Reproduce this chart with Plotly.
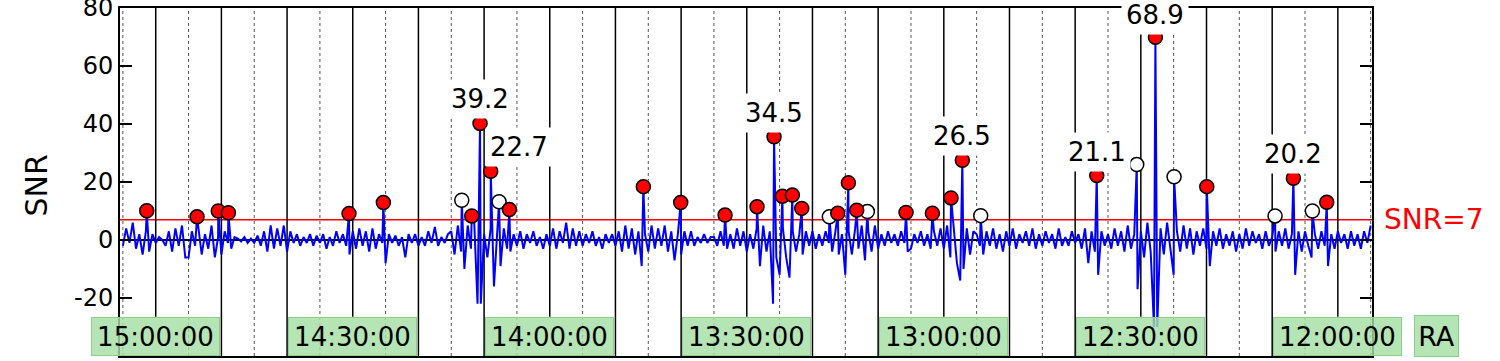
import plotly.graph_objects as go

# ---------------- data ----------------
# RA expressed in minutes of time (900 = 15:00:00); SNR noise sampled every 0.5 min
ra_start = 905.0
ra_step = 0.5
snr_noise = [
    -2, 4, -1, 6, -3, 2, -5, 3, -4, 2, -1, 1, 0, -2, 3, -4, 4, -2, 5, -6,
    -6, 3, -2, 4, -5, 2, -3, 5, -6, 1, -5, 3, -1, -3, 1, 0.5, -0.5, 1, -1, 0.5,
    -1, 1.5, -2, 3, -4, 5, -3, 4, -2, 5, -4, 3, -1, 2, -2, 1, -1, 2, -2, 1.5,
    -1, 2, -3, 1, -2, 3, -1, 2, -2, -5, 3, -3, 4, -2, 3, -4, 4, -3, 2, -1,
    -8, 2, -1, 1.5, -2, 1, -6, 2, -1, 2, -2, 1, -2, 3, -1, 4.5, -2, 1, -1, 2,
    3, -5, 5, -4, -10, 5, -3, 6, -22, -22, 2, -6, 4, -16, 3, -9, 4, -3, -4, 2,
    -2, 3, -3, 2, -1, 3, -2, 1, -3, 2, -2, 4, -3, 3, -1, 6, -3, 4, -2, 3,
    -2, 2, -1, 3, -2, 1, -3, 2, -1, 2, -2, 3, -4, 5, -3, 4, -5, 3, -9, 2,
    -4, 5, -3, 4, -2, 5, -4, 3, -7, 2, -5, 3, -2, 3, -2, 1, -1, 2, -1, 1,
    1, -2, 3, -2, -3, 2, -3, 4, -2, 3, -4, 2, -3, 4, -9, 5, -4, 3, -22, -6,
    -12, 4, -6, -13, 3, -4, 2, -5, 3, -2, 3, -3, 2, -2, 3, -1, -4, 3, -5, 2,
    -12, 3, -5, 4, -3, 5, -7, 3, -4, 5, -3, 2, -2, 3, -1, 2, -2, 3, -1, -4,
    -3, 2, -1, 3, -2, 2, -3, 3, -2, 4, -3, 5, -6, 4, -8, -14, -10, 4, -5, 3,
    2, -2, -5, 3, -2, 4, -3, 2, -4, 3, -2, 4, -3, 2, -1, 3, -2, 4, -3, 2,
    -2, 3, -1, 2, -3, 4, -2, 1, -2, 3, -1, 2, -3, 4, -8, 3, -4, -12, 3, -2,
    2, -3, 4, -2, 3, -4, 5, -3, 2, -17, 3, -6, 6, -4, -30, -30, 4, -5, 6, -3,
    -12, 3, -4, 5, -3, 4, -5, 3, -2, 4, -3, -9, 3, -2, 4, -3, 2, -2, 3, -4,
    2, -3, 4, -2, 3, -1, 2, -3, 3, -2, 1, -4, 3, -2, 4, -3, 2, -12, 3, -4,
    3, -2, -6, 2, -3, 3, -2, -9, 2, -3, 3, -1, 2, -3, 3, -2, 2, -3, 3, -1,
    5,
]

# detected peaks (RA minutes, SNR) and whether they are confirmed (red) or not (white)
peak_ra = [901.37, 893.71, 890.47, 888.94, 870.57, 865.34, 853.40, 851.88, 850.62,
           848.99, 847.72, 846.15, 825.75, 820.06, 813.31, 808.44, 805.85, 804.58,
           803.06, 801.63, 797.43, 796.15, 794.53, 793.26, 791.64, 785.75, 781.74,
           778.90, 777.18, 774.38, 756.71, 750.62, 747.78, 744.94, 739.96, 729.56,
           726.77, 723.88, 721.69]
peak_snr = [10.1, 8.0, 10.0, 9.4, 9.1, 12.9, 13.7, 8.3, 40.2,
            23.7, 13.2, 10.5, 18.4, 12.9, 8.6, 11.5, 35.6, 15.1,
            15.5, 10.9, 8.0, 9.2, 19.7, 10.3, 9.8, 9.5, 9.2,
            14.5, 27.5, 8.4, 22.2, 26.0, 69.9, 21.8, 18.4, 8.3,
            21.3, 10.0, 13.0]
peak_confirmed = [1, 1, 1, 1, 1, 1, 0, 1, 1,
                  1, 0, 1, 1, 1, 1, 1, 1, 1,
                  1, 1, 0, 1, 1, 1, 0, 1, 1,
                  1, 1, 0, 1, 0, 1, 0, 1, 0,
                  1, 0, 1]

# labelled peaks: index into peak lists and the label text
label_idx = [8, 9, 16, 28, 30, 32, 36]
label_text = ["39.2", "22.7", "34.5", "26.5", "21.1", "68.9", "20.2"]

# RA tick labels
ra_tick_pos = [900, 870, 840, 810, 780, 750, 720]
ra_tick_text = ["15:00:00", "14:30:00", "14:00:00", "13:30:00", "13:00:00", "12:30:00", "12:00:00"]

snr_threshold = 7
y_ticks = [-20, 0, 20, 40, 60, 80]
y_tick_text = ["-20", "0", "20", "40", "60", "80"]

# ---------------- build series ----------------
noise_ra = [ra_start - ra_step * i for i in range(len(snr_noise))]
pts = list(zip(noise_ra, snr_noise)) + list(zip(peak_ra, peak_snr))
pts.sort(key=lambda p: -p[0])
line_x = [p[0] for p in pts]
line_y = [p[1] for p in pts]

FONT = "DejaVu Sans"
fig = go.Figure()

fig.add_trace(go.Scatter(x=line_x, y=line_y, mode="lines",
                         line=dict(color="#0000ff", width=2), showlegend=False,
                         hoverinfo="skip"))

red_x = [r for r, c in zip(peak_ra, peak_confirmed) if c]
red_y = [s for s, c in zip(peak_snr, peak_confirmed) if c]
wht_x = [r for r, c in zip(peak_ra, peak_confirmed) if not c]
wht_y = [s for s, c in zip(peak_snr, peak_confirmed) if not c]
fig.add_trace(go.Scatter(x=wht_x, y=wht_y, mode="markers",
                         marker=dict(size=14, color="white", line=dict(color="black", width=1.5)),
                         showlegend=False))
fig.add_trace(go.Scatter(x=red_x, y=red_y, mode="markers",
                         marker=dict(size=14, color="#ff0000", line=dict(color="black", width=1.5)),
                         showlegend=False))

# ---------------- vertical RA grid ----------------
shapes = []
for m in range(715, 906, 5):
    if m % 10 == 0:
        y0 = -26.5 if m in ra_tick_pos else -40
        shapes.append(dict(type="line", xref="x", yref="y", x0=m, x1=m, y0=y0, y1=80,
                           line=dict(color="black", width=1.5), layer="below"))
    else:
        shapes.append(dict(type="line", xref="x", yref="y", x0=m, x1=m, y0=-40, y1=80,
                           line=dict(color="#555555", width=1, dash="dot"), layer="below"))
# threshold line
shapes.append(dict(type="line", xref="paper", yref="y", x0=0, x1=1,
                   y0=snr_threshold, y1=snr_threshold,
                   line=dict(color="#ff0000", width=1.5), layer="below"))

annotations = []
# peak value labels
for i, t in zip(label_idx, label_text):
    annotations.append(dict(x=peak_ra[i], y=peak_snr[i], xref="x", yref="y", text=t,
                            showarrow=False, yshift=(22 if t == "68.9" else 24),
                            xshift=(28 if t == "22.7" else 0),
                            yanchor="middle", xanchor="center",
                            bgcolor="white", borderpad=4,
                            font=dict(family=FONT, size=26, color="black")))
# RA time boxes
for p, t in zip(ra_tick_pos, ra_tick_text):
    annotations.append(dict(x=p, y=0.056, xref="x", yref="paper", text=t, showarrow=False,
                            xanchor="center", yanchor="middle", width=121, height=31,
                            bgcolor="rgba(165,222,165,0.82)", bordercolor="#8fcc8f",
                            borderwidth=1, borderpad=3,
                            font=dict(family=FONT, size=26, color="black")))
annotations.append(dict(x=(1436.5 - 120) / 1252, y=0.057, xref="paper", yref="paper", text="RA",
                        showarrow=False, xanchor="center", yanchor="middle", width=37, height=34,
                        bgcolor="rgba(165,222,165,0.82)", bordercolor="#8fcc8f",
                        borderwidth=1, borderpad=3,
                        font=dict(family=FONT, size=27, color="black")))
annotations.append(dict(x=1, y=snr_threshold, xref="paper", yref="y", text="SNR=7",
                        showarrow=False, xanchor="left", yanchor="middle", xshift=10,
                        font=dict(family=FONT, size=28, color="#ff0000")))
annotations.append(dict(x=(36 - 120) / 1252, y=0.49, xref="paper", yref="paper", text="SNR",
                        showarrow=False, textangle=-90, xanchor="center", yanchor="middle",
                        font=dict(family=FONT, size=30, color="black")))

fig.update_layout(
    width=1500, height=361,
    margin=dict(l=120, r=128, t=8, b=5, autoexpand=False),
    paper_bgcolor="white", plot_bgcolor="white",
    shapes=shapes, annotations=annotations,
    showlegend=False,
    xaxis=dict(range=[905.44, 714.8], showgrid=False, zeroline=False,
               showticklabels=False, ticks="", showline=True, mirror=True,
               linecolor="black", linewidth=2),
    yaxis=dict(range=[-40, 80], tickvals=y_ticks, ticktext=y_tick_text, showgrid=False,
               zeroline=True, zerolinecolor="black", zerolinewidth=1.5,
               ticks="inside", ticklen=12, tickwidth=1.5, tickcolor="black",
               showline=True, mirror="ticks", linecolor="black", linewidth=2,
               ticklabeloverflow="allow",
               tickfont=dict(family=FONT, size=24, color="black")),
)

fig.write_html("out.html", config={"displayModeBar": False},
               post_script="document.body.style.margin='0px';")
